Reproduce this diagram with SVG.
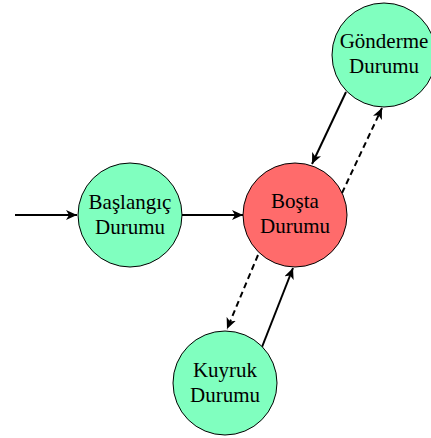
<svg xmlns="http://www.w3.org/2000/svg" width="431" height="438" viewBox="0 0 431 438">
<defs>
<style>
.n{stroke:#000;stroke-width:1}
.g{fill:#80ffbf}
.r{fill:#ff6b6b}
.t{font-family:"Liberation Serif","Times New Roman",serif;font-size:21px;fill:#000;text-anchor:middle}
.e{stroke:#000;stroke-width:2;fill:none}
.d{stroke-dasharray:6 4}
</style>
<marker id="a" markerUnits="userSpaceOnUse" markerWidth="12" markerHeight="10" refX="11" refY="5" orient="auto" viewBox="0 0 12 10">
<path d="M0,0 L11,5 L0,10 L3,5 z" fill="#000"/>
</marker>
</defs>
<g id="edges">
<line class="e" x1="15" y1="215" x2="77" y2="215" marker-end="url(#a)"/>
<line class="e" x1="182" y1="215" x2="243" y2="215" marker-end="url(#a)"/>
<line class="e" x1="346" y1="92" x2="312" y2="164" marker-end="url(#a)"/>
<line class="e d" x1="342" y1="193" x2="382" y2="108" marker-end="url(#a)"/>
<line class="e d" x1="258" y1="255" x2="227" y2="329" marker-end="url(#a)"/>
<line class="e" x1="262" y1="347" x2="293" y2="268" marker-end="url(#a)"/>
</g>
<g id="baslangic">
<circle class="n g" cx="130" cy="215" r="52"/>
<text class="t" x="130" y="209">Başlangıç</text>
<text class="t" x="130" y="234">Durumu</text>
</g>
<g id="bosta">
<circle class="n r" cx="295" cy="215" r="52"/>
<text class="t" x="295" y="208">Boşta</text>
<text class="t" x="295" y="233">Durumu</text>
</g>
<g id="gonderme">
<circle class="n g" cx="384" cy="55" r="52"/>
<text class="t" x="384" y="48">Gönderme</text>
<text class="t" x="384" y="73">Durumu</text>
</g>
<g id="kuyruk">
<circle class="n g" cx="225" cy="383" r="52"/>
<text class="t" x="225" y="377">Kuyruk</text>
<text class="t" x="225" y="402">Durumu</text>
</g>
</svg>
